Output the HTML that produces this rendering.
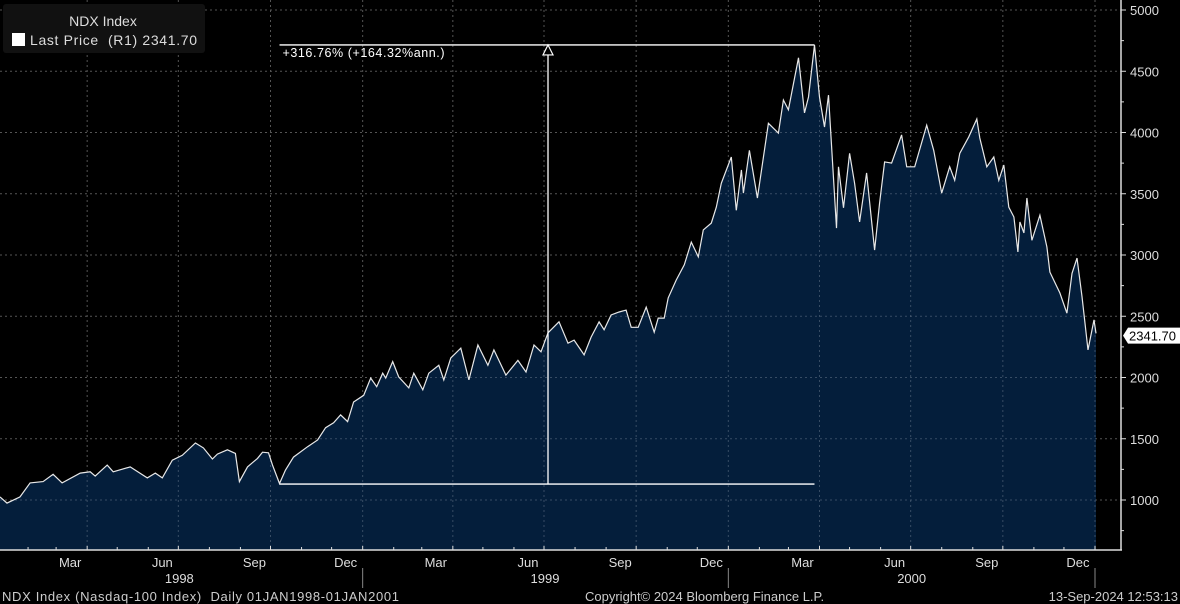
<!DOCTYPE html>
<html><head><meta charset="utf-8"><style>
html,body{margin:0;padding:0;background:#000;}
svg{display:block;font-family:"Liberation Sans",sans-serif;}
</style></head><body>
<svg id="chart" width="1180" height="604" viewBox="0 0 1180 604" xmlns="http://www.w3.org/2000/svg">
<rect width="1180" height="604" fill="#000"/>
<g id="grid"></g>
<path id="area" fill="#041e3b"/>
<g id="gridover"></g>
<path id="line" fill="none" stroke="#e8e8e8" stroke-width="1.2"/>
<g id="annot"></g>
<g id="axes"></g>
<g>
<rect x="3" y="4" width="202" height="49" rx="3" fill="#111"/>
<text x="103" y="26" fill="#ddd" font-size="14" text-anchor="middle">NDX Index</text>
<rect x="12" y="33" width="13" height="13" fill="#fff"/>
<text x="30" y="45" fill="#ddd" font-size="14" textLength="167" lengthAdjust="spacing" xml:space="preserve">Last Price  (R1) 2341.70</text>
</g>
<text x="2" y="601" fill="#ccc" font-size="13" textLength="397" lengthAdjust="spacing" xml:space="preserve">NDX Index (Nasdaq-100 Index)  Daily 01JAN1998-01JAN2001</text>
<text x="585" y="601" fill="#ccc" font-size="13">Copyright© 2024 Bloomberg Finance L.P.</text>
<text x="1178" y="601" fill="#ccc" font-size="13" text-anchor="end">13-Sep-2024 12:53:13</text>
</svg>
<script>
// days since 1998-01-01
const days = [3,10,23,33,46,56,65,83,93,98,110,116,133,150,158,165,175,185,198,206,215,220,230,238,242,250,260,265,271,275,282,288,296,310,320,328,336,343,350,356,366,373,379,385,388,395,401,411,416,425,431,441,446,453,463,471,480,490,496,508,520,528,536,543,550,561,570,576,586,593,601,606,613,621,628,633,640,648,656,660,666,670,678,686,693,700,705,713,718,723,733,738,743,745,751,759,770,780,785,790,800,806,810,816,821,826,830,838,840,845,851,856,861,868,876,881,886,893,903,908,916,928,935,943,951,956,961,970,978,981,988,995,1000,1005,1010,1015,1019,1021,1025,1028,1033,1041,1048,1051,1061,1068,1073,1078,1083,1089,1095,1097];
const values = [1025,975,1025,1140,1150,1210,1140,1220,1230,1195,1285,1230,1270,1180,1220,1180,1325,1365,1465,1425,1335,1375,1410,1380,1150,1270,1340,1390,1385,1285,1135,1245,1350,1435,1490,1590,1630,1695,1640,1800,1855,1995,1925,2035,1995,2130,2005,1915,2035,1900,2035,2100,1980,2160,2240,1980,2265,2100,2225,2020,2140,2045,2265,2210,2365,2455,2280,2305,2185,2330,2455,2390,2510,2535,2550,2410,2410,2575,2370,2485,2485,2650,2795,2920,3105,2985,3205,3260,3390,3585,3800,3365,3695,3505,3855,3465,4075,3995,4265,4185,4610,4160,4290,4715,4290,4045,4305,3220,3720,3385,3830,3585,3270,3670,3040,3425,3760,3750,3980,3720,3720,4060,3855,3505,3720,3610,3830,3965,4110,3955,3720,3800,3610,3735,3390,3310,3025,3270,3180,3465,3120,3325,3065,2860,2690,2525,2850,2975,2660,2225,2470,2360,2341.7];
const yTicks = [1000,1500,2000,2500,3000,3500,4000,4500,5000];
const monthLabels = ["Mar","Jun","Sep","Dec","Mar","Jun","Sep","Dec","Mar","Jun","Sep","Dec"];
const monthLabelDays = [73,165,257,348,438,530,622,713,804,896,988,1079];
const yearLabels = ["1998","1999","2000"];
const yearLabelDays = [182,547,913];
const monthStartDays = [0,31,59,90,120,151,181,212,243,273,304,334,365,396,424,455,485,516,546,577,608,638,669,699,730,761,790,821,851,882,912,943,974,1004,1035,1065,1096];
const lastValue = 2341.70, lowValue = 1130, highValue = 4715, lowDay = 282, highDay = 816, arrowDay = 550;

const X0=-3, XS=1098/1096, PR=1121, PB=550;
const x = d => X0 + d*XS;
const y = v => 500 - (v-1000)*0.1225;
const NS='http://www.w3.org/2000/svg';
function mk(tag, attrs, parent){const e=document.createElementNS(NS,tag);for(const k in attrs)e.setAttribute(k,attrs[k]);parent.appendChild(e);return e;}

let d='';
days.forEach((dd,i)=>{d+=(i?'L':'M')+x(dd).toFixed(1)+','+y(values[i]).toFixed(1);});
document.getElementById('line').setAttribute('d',d);
document.getElementById('area').setAttribute('d',d+'L'+x(days[days.length-1]).toFixed(1)+','+PB+'L'+x(days[0]).toFixed(1)+','+PB+'Z');

const grid=document.getElementById('grid'), gov=document.getElementById('gridover');
[grid,gov].forEach((g,gi)=>{
  const col = gi? '#5a6b80':'#555';
  yTicks.forEach(v=>{const l=mk('line',{x1:0,x2:PR,y1:y(v),y2:y(v),stroke:col,'stroke-dasharray':'2,3','stroke-width':1,opacity:gi?0.6:1},g);
    
    });
  monthStartDays.forEach((md,i)=>{ if(i%3!==0) return; const l=mk('line',{x1:x(md),x2:x(md),y1:0,y2:PB,stroke:col,'stroke-dasharray':'2,3','stroke-width':1,opacity:gi?0.6:1},g);
    
    });
});
gov.setAttribute('clip-path','url(#areaclip)');
const defs=mk('defs',{},document.getElementById('chart'));
const cp=mk('clipPath',{id:'areaclip'},defs);
mk('path',{d:document.getElementById('area').getAttribute('d')},cp);

const axes=document.getElementById('axes');
let l=mk('line',{x1:0,x2:PR+1,y1:PB,y2:PB,stroke:'#ddd','stroke-width':1.5},axes);


l=mk('line',{x1:PR,x2:PR,y1:0,y2:PB,stroke:'#ddd','stroke-width':1.5},axes);


monthStartDays.forEach((md,i)=>{const t=mk('line',{x1:x(md),x2:x(md),y1:PB,y2:PB-(i%3===0?4:3),stroke:'#ddd'},axes);
  
  });
monthLabels.forEach((m,i)=>{const t=mk('text',{x:x(monthLabelDays[i]),y:567,fill:'#ddd','font-size':13,'text-anchor':'middle'},axes);t.textContent=m;
  
  });
yearLabels.forEach((yl,i)=>{const t=mk('text',{x:x(yearLabelDays[i]),y:583,fill:'#ddd','font-size':13,'text-anchor':'middle'},axes);t.textContent=yl;
  
  });
[365,730,1096].forEach(yd=>{const s=mk('line',{x1:x(yd),x2:x(yd),y1:568,y2:588,stroke:'#888'},axes);
  
  });
yTicks.forEach(v=>{
  const t=mk('line',{x1:PR,x2:PR+5,y1:y(v),y2:y(v),stroke:'#ddd'},axes);
  
  
  const m=mk('line',{x1:PR,x2:PR+3,y1:y(v-250),y2:y(v-250),stroke:'#ddd'},axes);
  
  
  const tx=mk('text',{x:1130,y:y(v)+5,fill:'#ddd','font-size':13},axes);tx.textContent=v;
  
  
});
const ly=y(lastValue);
const lb=mk('path',{d:`M${PR+2},${ly} L${PR+7},${ly-8} H1180 V${ly+8} H${PR+7} Z`,fill:'#fff'},axes);


const lt=mk('text',{x:1129,y:ly+5,fill:'#000','font-size':13},axes);lt.textContent=lastValue.toFixed(2);



const an=document.getElementById('annot');
const xa=x(lowDay), xb=x(highDay), xm=x(arrowDay), yl=y(lowValue), yh=y(highValue);
let e=mk('line',{x1:xa,x2:xb,y1:yl,y2:yl,stroke:'#fff','stroke-width':1.3},an);


e=mk('line',{x1:xa,x2:xb,y1:yh,y2:yh,stroke:'#fff','stroke-width':1.3},an);


e=mk('line',{x1:xm,x2:xm,y1:yl,y2:yh+10,stroke:'#fff','stroke-width':1.3},an);


e=mk('path',{d:`M${xm},${yh} L${xm-5},${yh+10} L${xm+5},${yh+10} Z`,fill:'#000',stroke:'#fff','stroke-width':1.2},an);


e=mk('text',{x:xa+3,y:yh+12,fill:'#fff','font-size':12.5,textLength:162,lengthAdjust:'spacing'},an);
e.textContent='+316.76% (+164.32%ann.)';


</script>
</body></html>
